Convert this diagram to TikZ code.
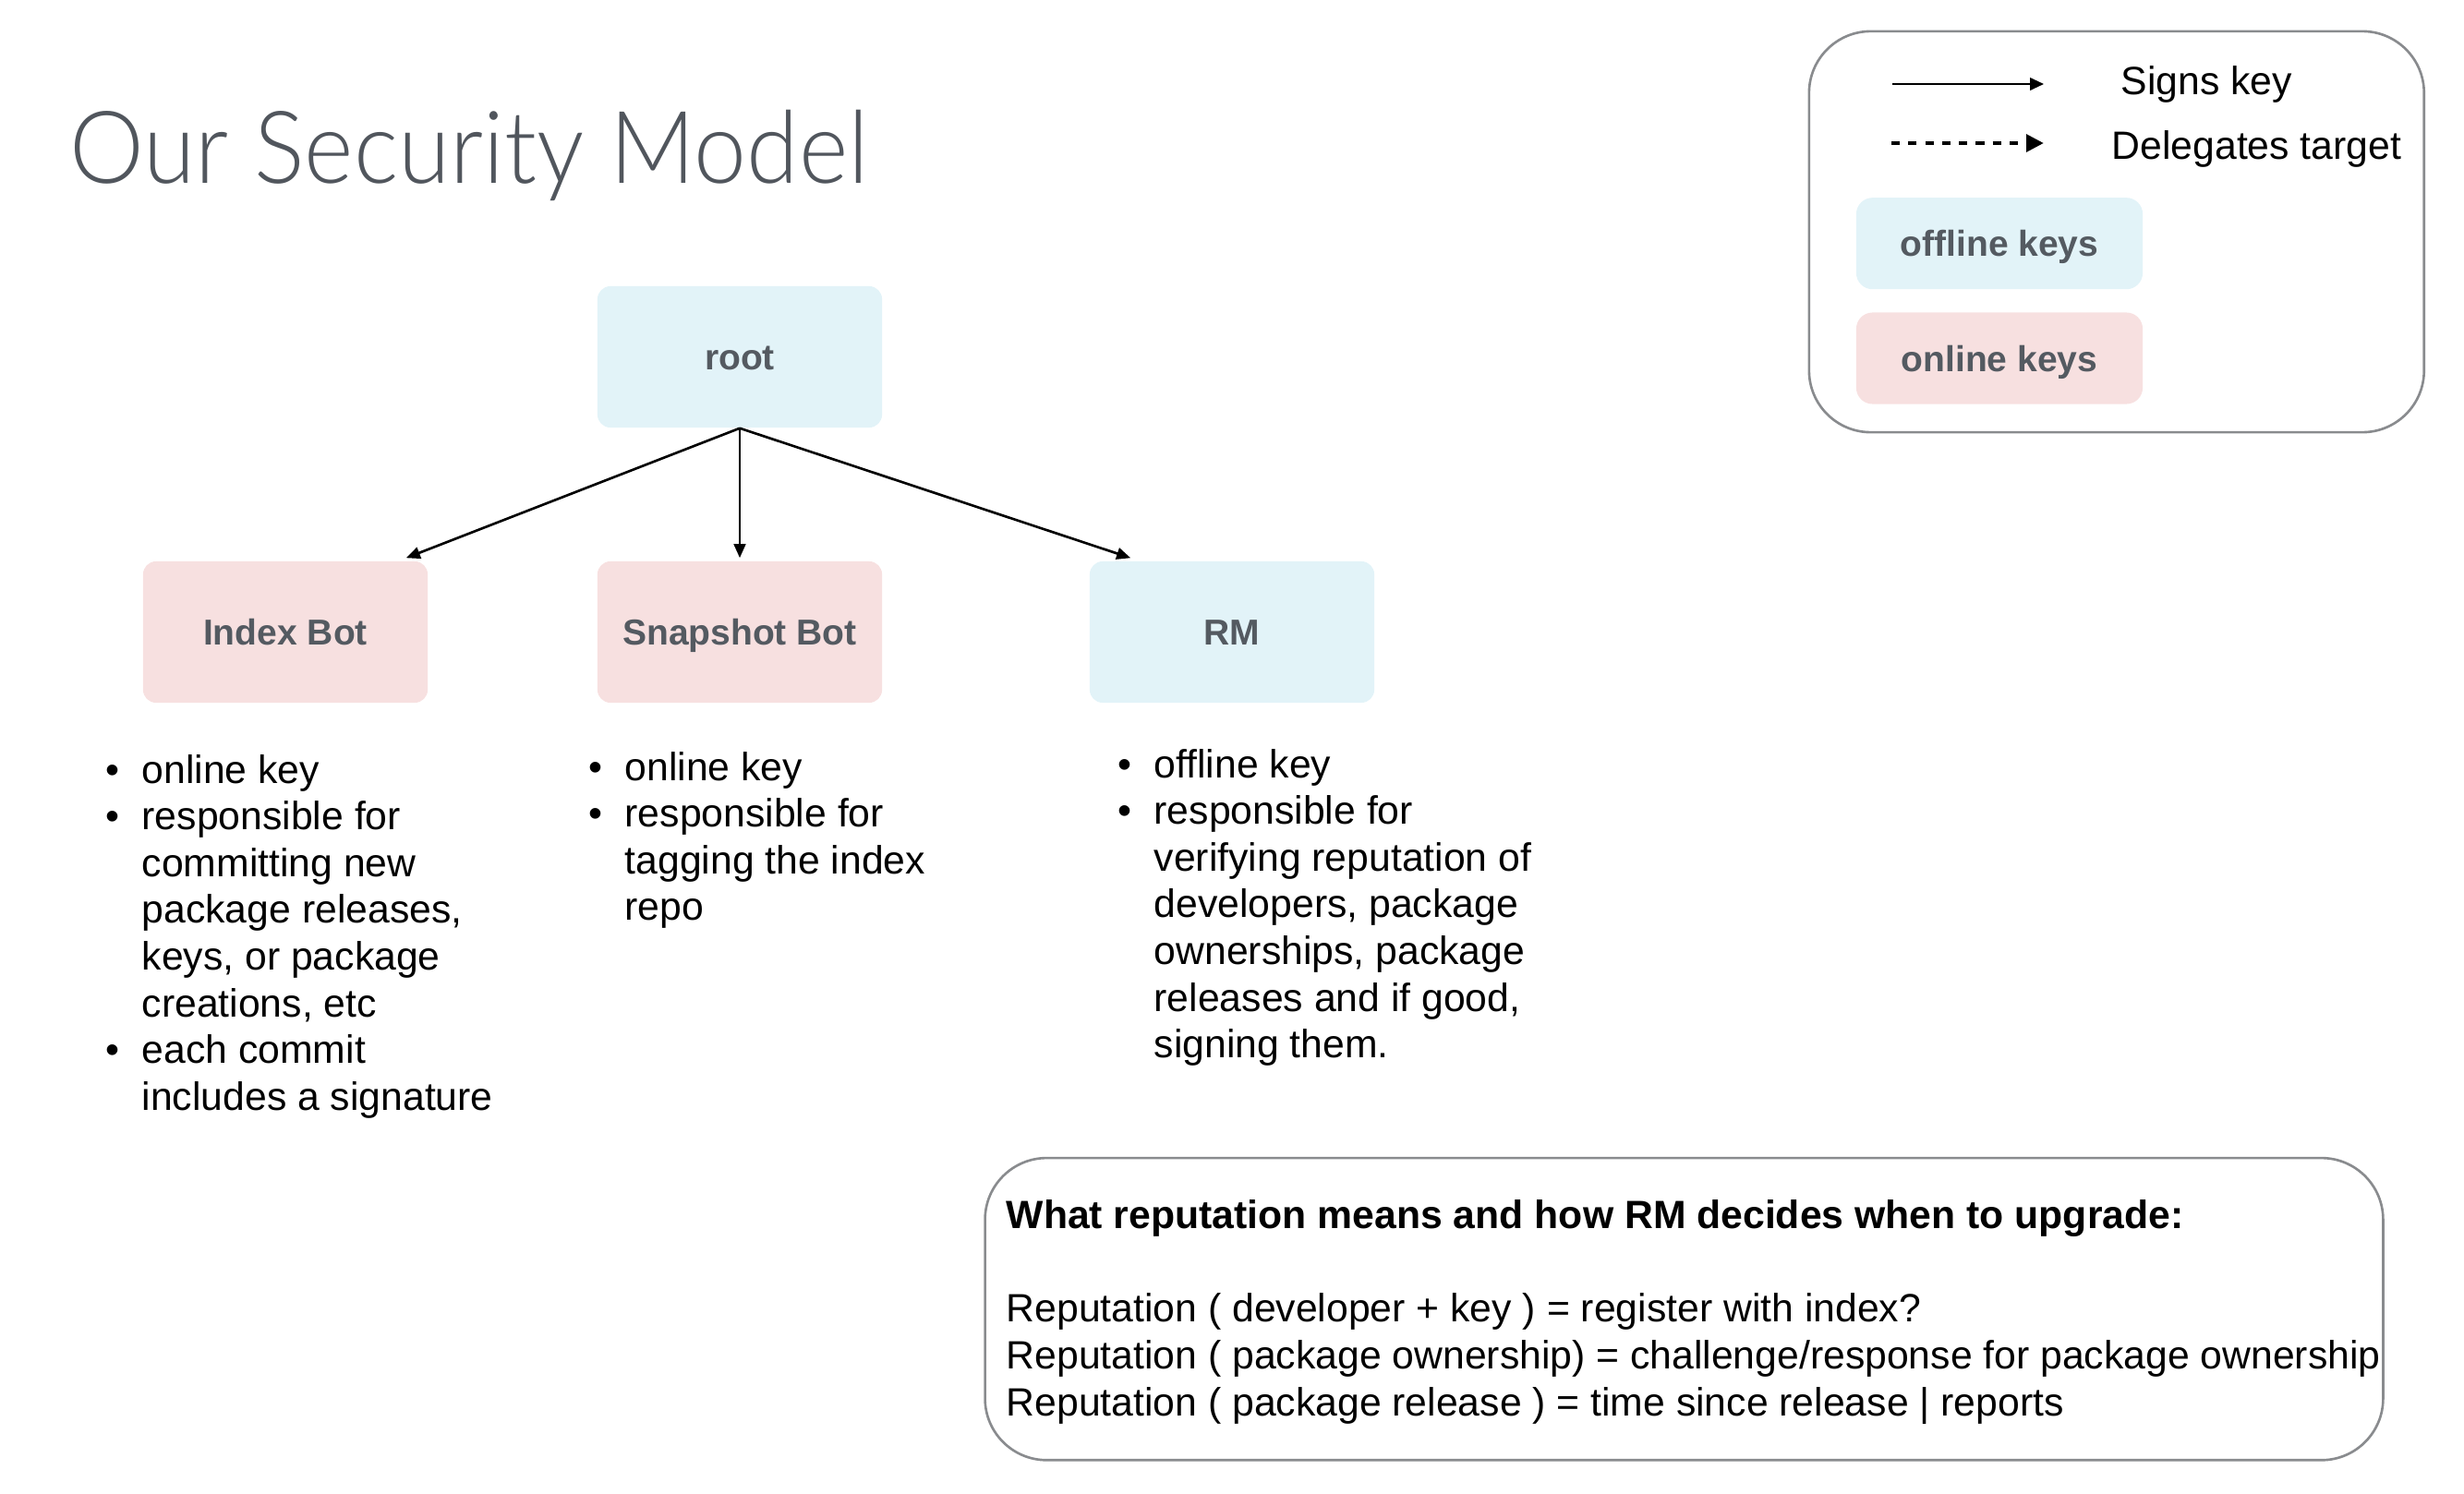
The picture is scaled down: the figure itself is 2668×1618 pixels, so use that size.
\documentclass[tikz,border=0pt]{standalone}
\usepackage{fontspec}
\setmainfont{Liberation Sans}
\newfontfamily\titlefont[FakeStretch=0.937]{Lato Light}
\usetikzlibrary{arrows.meta,calc}
\definecolor{offblue}{HTML}{E2F3F8}
\definecolor{onpink}{HTML}{F7E0E0}
\definecolor{labelgray}{HTML}{545A61}
\definecolor{framegray}{HTML}{898B8E}
\definecolor{titlegray}{HTML}{51565D}
\tikzset{
  keybox/.style={rounded corners=4pt, minimum width=3.08cm, minimum height=1.53cm,
    inner sep=0pt, text=labelgray, font=\fontsize{11.1}{13}\selectfont\bfseries,
    text height=8pt, text depth=0pt},
  offkey/.style={keybox, fill=offblue},
  onkey/.style={keybox, fill=onpink},
  legendkey/.style={minimum width=3.10cm, minimum height=0.99cm, rounded corners=5pt},
  framebox/.style={draw=framegray, line width=0.75pt, rounded corners=19pt, inner sep=0pt},
  signarrow/.style={-{Triangle[length=4.3pt,width=3.6pt]}, line width=0.75pt},
  bodytext/.style={font=\fontsize{12.15}{14.4}\selectfont, inner sep=0pt, anchor=base west},
}
\newcommand\bul{\makebox[0.39cm][l]{\textbullet}}
\begin{document}
\begin{tikzpicture}[x=0.01cm,y=-0.01cm]
\useasboundingbox (0,0) rectangle (2668,1618);

% title
\node[anchor=base west, inner sep=0pt, text=titlegray, font=\titlefont\fontsize{31}{36}\selectfont] (title) at (75,199) {Our Security Model};

% tree
\node[offkey] (root) at (801,386.5) {root};
\node[onkey] (index) at (309,684.5) {Index Bot};
\node[onkey] (snap) at (801,684.5) {Snapshot Bot};
\node[offkey] (rm) at (1334,684.5) {RM};

\coordinate (indexin) at ($(index.north east)+(-24,-3)$);
\coordinate (snapin) at ($(snap.north)+(0,-3)$);
\coordinate (rmin) at ($(rm.north west)+(45,-3)$);
\draw[signarrow] (root.south) -- (indexin);
\draw[signarrow] (root.south) -- (snapin);
\draw[signarrow] (root.south) -- (rmin);

% bullet lists
\node[bodytext] (indexlist) at (114,848) {\begin{tabular}[t]{@{}l@{}l@{}}
\bul & online key\\
\bul & responsible for\\
 & committing new\\
 & package releases,\\
 & keys, or package\\
 & creations, etc\\
\bul & each commit\\
 & includes a signature
\end{tabular}};

\node[bodytext] (snaplist) at (637,845) {\begin{tabular}[t]{@{}l@{}l@{}}
\bul & online key\\
\bul & responsible for\\
 & tagging the index\\
 & repo
\end{tabular}};

\node[bodytext] (rmlist) at (1210,842) {\begin{tabular}[t]{@{}l@{}l@{}}
\bul & offline key\\
\bul & responsible for\\
 & verifying reputation of\\
 & developers, package\\
 & ownerships, package\\
 & releases and if good,\\
 & signing them.
\end{tabular}};

% legend
\node[framebox, minimum width=6.655cm, minimum height=4.34cm] (legend) at (2291.8,251) {};
\coordinate (sa) at (2049,91);
\coordinate (sb) at (2213,91);
\coordinate (da) at (2048,155);
\coordinate (db) at (2213,155);
\draw[-{Triangle[length=4.2pt,width=3.8pt]}, line width=0.6pt] (sa) -- (sb);
\draw[-{Triangle[length=5.4pt,width=5.2pt]}, line width=1.4pt, dash pattern=on 2.6pt off 2.6pt] (da) -- (db);
\node[bodytext] (signslabel) at (2296,102) {Signs key};
\node[bodytext] (delegateslabel) at (2286,172) {Delegates target};
\node[offkey, legendkey] (offlegend) at (2165,263.7) {offline keys};
\node[onkey, legendkey] (onlegend) at (2165,388) {online keys};

% reputation box
\node[framebox, minimum width=15.13cm, minimum height=3.27cm] (repbox) at (1823.5,1417.7) {};
\node[bodytext] (reptext) at (1089,1330.5) {\begin{tabular}[t]{@{}l@{}}
\textbf{What reputation means and how RM decides when to upgrade:}\\[14.4pt]
Reputation ( developer + key ) = register with index?\\
Reputation ( package ownership) = challenge/response for package ownership\\
Reputation ( package release ) = time since release | reports
\end{tabular}};
\end{tikzpicture}
\end{document}
